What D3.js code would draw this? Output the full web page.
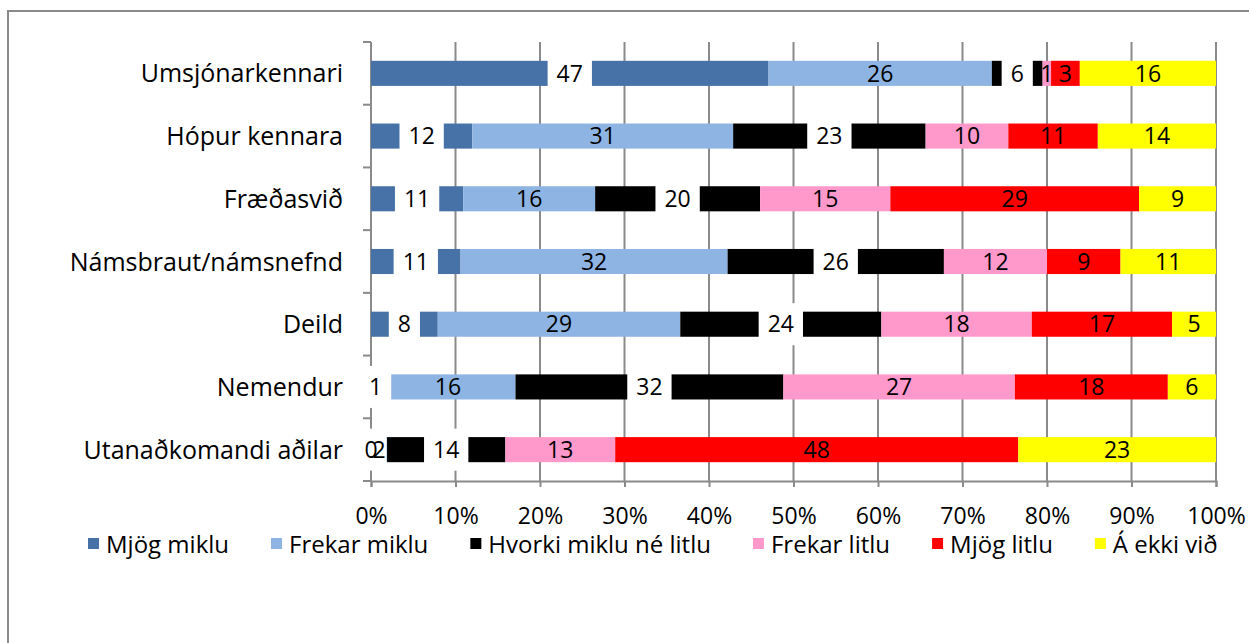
<!DOCTYPE html>
<html>
<head>
<meta charset="utf-8">
<script src="https://cdn.jsdelivr.net/npm/d3@7"></script>
<style>
  body { margin: 0; background: #fff; }
  svg text { font-family: "Open Sans", sans-serif; fill: #000; }
</style>
</head>
<body>
<svg></svg>
<script>
// Categories (rows, top to bottom) and series names
const categories = ["Umsjónarkennari", "Hópur kennara", "Fræðasvið", "Námsbraut/námsnefnd", "Deild", "Nemendur", "Utanaðkomandi aðilar"];
const seriesNames = ["Mjög miklu", "Frekar miklu", "Hvorki miklu né litlu", "Frekar litlu", "Mjög litlu", "Á ekki við"];
const seriesColors = ["#4672a8", "#8eb4e3", "#000000", "#ff99cc", "#ff0000", "#ffff00"];

// Percent values per series, in category order
const mjogMiklu   = [47.0, 12.0, 10.9, 10.6,  7.9,  1.1,  0.0];
const frekarMiklu = [26.4, 30.9, 15.6, 31.6, 28.7, 16.0,  1.9];
const hvorki      = [ 6.0, 22.8, 19.5, 25.6, 23.8, 31.7, 14.0];
const frekarLitlu = [ 1.0,  9.8, 15.4, 12.2, 17.8, 27.4, 13.0];
const mjogLitlu   = [ 3.4, 10.6, 29.4,  8.7, 16.6, 18.1, 47.7];
const ekkiVid     = [16.1, 14.0,  9.1, 11.3,  5.2,  5.7, 23.4];
const seriesValues = [mjogMiklu, frekarMiklu, hvorki, frekarLitlu, mjogLitlu, ekkiVid];

// series whose data labels sit in a white box
const boxedSeries = ["Mjög miklu", "Hvorki miklu né litlu"];

const margin = { top: 42, left: 371 },
      width = 845,
      height = 439;
const gridColor = "#8a8a8a";

const svg = d3.select("svg")
    .attr("width", 1249)
    .attr("height", 643);

// outer chart frame (runs off the page on the right and bottom)
svg.append("rect")
    .attr("x", 8).attr("y", 11)
    .attr("width", 1400).attr("height", 800)
    .attr("fill", "#fff")
    .attr("stroke", gridColor)
    .attr("stroke-width", 2);

const g = svg.append("g")
    .attr("transform", `translate(${margin.left},${margin.top})`);

// build rows for the stack
const rows = categories.map((c, i) => {
  const r = { category: c };
  seriesNames.forEach((s, j) => r[s] = seriesValues[j][i]);
  return r;
});
const layers = d3.stack().keys(seriesNames).offset(d3.stackOffsetExpand)(rows);

const x = d3.scaleLinear().domain([0, 1]).range([0, width]);
const y = d3.scaleBand()
    .domain(categories)
    .range([0, height])
    .paddingInner(0.6)
    .paddingOuter(0.3);
const color = d3.scaleOrdinal().domain(seriesNames).range(seriesColors);

// vertical gridlines
g.append("g")
  .selectAll("line")
  .data(x.ticks(10).slice(1))
  .join("line")
    .attr("x1", d => x(d)).attr("x2", d => x(d))
    .attr("y1", 0).attr("y2", height)
    .attr("stroke", gridColor)
    .attr("stroke-width", 2);

// X axis
const xAxis = g.append("g")
    .attr("transform", `translate(0,${height})`)
    .call(d3.axisBottom(x).ticks(10, ".0%").tickSize(6).tickPadding(21));
xAxis.select(".domain").attr("stroke", gridColor).attr("stroke-width", 2);
xAxis.selectAll(".tick line").attr("stroke", gridColor).attr("stroke-width", 2);
xAxis.selectAll("text").style("font-size", "23px").attr("fill", "#000");

// Y axis: line plus ticks at category boundaries
g.append("line")
    .attr("x1", 0).attr("x2", 0)
    .attr("y1", 0).attr("y2", height)
    .attr("stroke", gridColor).attr("stroke-width", 2);
g.append("g")
  .selectAll("line")
  .data(d3.range(categories.length + 1))
  .join("line")
    .attr("x1", -8).attr("x2", 0)
    .attr("y1", i => i * y.step()).attr("y2", i => i * y.step())
    .attr("stroke", gridColor).attr("stroke-width", 2);

// category labels
g.append("g")
  .selectAll("text")
  .data(categories)
  .join("text")
    .attr("x", -28)
    .attr("y", d => y(d) + y.bandwidth() / 2)
    .attr("dy", "0.36em")
    .attr("text-anchor", "end")
    .style("font-size", "25px")
    .text(d => d);

// bars
g.append("g")
  .selectAll("g")
  .data(layers)
  .join("g")
    .attr("fill", d => color(d.key))
  .selectAll("rect")
  .data(d => d)
  .join("rect")
    .attr("x", d => x(d[0]))
    .attr("y", d => y(d.data.category))
    .attr("width", d => x(d[1]) - x(d[0]))
    .attr("height", y.bandwidth());

// data labels, drawn series by series after all bars
layers.forEach(layer => {
  const lg = g.append("g");
  layer.forEach(d => {
    const cx = (x(d[0]) + x(d[1])) / 2;
    const cy = y(d.data.category) + y.bandwidth() / 2;
    const box = lg.append("rect");
    const t = lg.append("text")
        .attr("x", cx)
        .attr("y", cy)
        .attr("dy", "0.36em")
        .attr("text-anchor", "middle")
        .style("font-size", "23px")
        .text(Math.round(d.data[layer.key]));
    if (boxedSeries.includes(layer.key)) {
      const w = t.node().getComputedTextLength() + 18;
      box.attr("x", cx - w / 2).attr("y", cy - 21)
         .attr("width", w).attr("height", 42)
         .attr("fill", "#fff");
    } else {
      box.remove();
    }
  });
});

// legend
const legend = svg.append("g").attr("transform", "translate(88,544)");
let lx = 0;
seriesNames.forEach(s => {
  const item = legend.append("g").attr("transform", `translate(${lx},0)`);
  item.append("rect")
      .attr("x", 0).attr("y", -6)
      .attr("width", 11).attr("height", 11)
      .attr("fill", color(s));
  const t = item.append("text")
      .attr("x", 18).attr("y", 0)
      .attr("dy", "0.36em")
      .style("font-size", "24px")
      .text(s);
  lx += 18 + t.node().getComputedTextLength() + 42;
});
</script>
</body>
</html>
